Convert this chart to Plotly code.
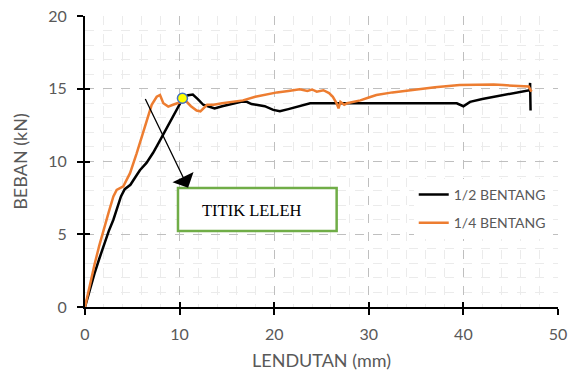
import plotly.graph_objects as go

# Load-deflection data, 1/2 span loading
half_x = [0, 0.5, 1, 1.5, 2, 2.5, 3, 3.4, 3.8, 4.2, 4.8, 5.3, 5.8, 6.5, 7.2, 7.8, 8.3,
          8.8, 9.3, 9.7, 10.0, 10.4, 10.9, 11.4, 11.9, 12.5, 13.0, 13.7, 14.5, 15.5,
          16.5, 17.1, 17.6, 18.1, 19.0, 19.9, 20.6, 21.5, 22.7, 23.8, 26, 30, 35,
          39.3, 40.0, 40.7, 42, 44, 45.5, 47.0, 47.05, 47.1]
half_y = [0, 1.2, 2.3, 3.3, 4.3, 5.2, 6.0, 6.8, 7.6, 8.1, 8.4, 8.9, 9.4, 9.9, 10.6,
          11.3, 11.9, 12.5, 13.1, 13.6, 14.0, 14.4, 14.55, 14.6, 14.3, 13.9, 13.8,
          13.65, 13.8, 13.95, 14.1, 14.1, 13.95, 13.9, 13.8, 13.55, 13.45, 13.6, 13.8,
          14.0, 14.0, 14.0, 14.0, 14.0, 13.8, 14.1, 14.3, 14.55, 14.7, 14.9, 15.4, 13.5]

# Load-deflection data, 1/4 span loading
quarter_x = [0, 0.5, 1, 1.5, 2, 2.5, 3, 3.35, 4.05, 4.76, 5.46, 6.0, 6.52, 7.05, 7.58,
             7.93, 8.28, 8.8, 9.3, 9.7, 10.2, 10.75, 11.2, 11.8, 12.2, 12.9, 13.6, 14.5,
             15.5, 16.7, 18, 19, 20.3, 21.5, 22.7, 23.5, 24.0, 24.5, 25.2, 25.8, 26.2,
             26.6, 26.8, 27.0, 27.4, 27.7, 28.4, 29.1, 30.0, 30.8, 32.5, 34.4, 37,
             39.6, 41.5, 43.2, 44.2, 46.3, 46.9, 47.2]
quarter_y = [0, 1.5, 2.9, 4.2, 5.4, 6.5, 7.6, 8.05, 8.3, 9.2, 10.56, 11.7, 12.85, 13.9,
             14.45, 14.57, 14.0, 13.77, 13.9, 14.0, 14.1, 14.1, 13.8, 13.5, 13.45, 13.9,
             13.9, 14.0, 14.1, 14.2, 14.45, 14.6, 14.75, 14.85, 14.96, 14.85, 14.95,
             14.8, 14.9, 14.7, 14.45, 14.0, 13.65, 14.1, 13.9, 14.0, 14.1, 14.2, 14.4,
             14.57, 14.75, 14.9, 15.1, 15.25, 15.3, 15.3, 15.25, 15.2, 15.15, 14.8]

# Yield point
yield_x = [10.3]
yield_y = [14.35]

x_ticks = [0, 10, 20, 30, 40, 50]
y_ticks = [0, 5, 10, 15, 20]

GREY = "#595959"
FONT = "Lato"

fig = go.Figure()
fig.add_trace(go.Scatter(x=half_x, y=half_y, mode="lines", name="1/2 BENTANG",
                         legendgroup="a",
                         line=dict(color="#000000", width=2.5)))
fig.add_trace(go.Scatter(x=quarter_x, y=quarter_y, mode="lines", name="1/4 BENTANG",
                         legendgroup="b",
                         line=dict(color="#ED7D31", width=2.5)))
fig.add_trace(go.Scatter(x=yield_x, y=yield_y, mode="markers", showlegend=False,
                         marker=dict(color="#FFFF00", size=10,
                                     line=dict(color="#4472C4", width=1.5))))
# Empty trace that brings up the overlay axes used for the inner tick halves
fig.add_trace(go.Scatter(x=[], y=[], xaxis="x2", yaxis="y2", showlegend=False,
                         hoverinfo="skip"))

# Label box for the yield point
fig.add_shape(type="rect", xref="x", yref="y", x0=9.83, x1=26.6, y0=5.22, y1=8.18,
              line=dict(color="#70AD47", width=2.5), fillcolor="white", layer="above")
fig.add_annotation(x=17.7, y=6.65, xref="x", yref="y", text="TITIK LELEH",
                   showarrow=False,
                   font=dict(family="Liberation Serif", size=16.5, color="#000000"))
fig.add_annotation(x=10.9, y=8.2, ax=6.3, ay=14.4, xref="x", yref="y",
                   axref="x", ayref="y", text="", showarrow=True,
                   arrowhead=1, arrowsize=3.0, arrowwidth=1.3, arrowcolor="#000000")

fig.update_xaxes(range=[0, 50], tickvals=x_ticks, ticks="outside", ticklen=6,
                 tickwidth=2, tickcolor="#000000", ticklabelstandoff=6,
                 automargin=False,
                 showline=True, linecolor="#000000", linewidth=2,
                 showgrid=True, gridcolor="#BFBFBF", griddash="dash", gridwidth=1,
                 minor=dict(dtick=2, showgrid=True, gridcolor="#EBEBEB", gridwidth=1),
                 zeroline=False,
                 tickfont=dict(family=FONT, size=16, color=GREY),
                 title=dict(text="LENDUTAN (mm)", standoff=12,
                            font=dict(family=FONT, size=18, color=GREY)))
fig.update_yaxes(range=[0, 20], tickvals=y_ticks, ticks="outside", ticklen=6,
                 tickwidth=2, tickcolor="#000000", ticklabelstandoff=7,
                 automargin=False,
                 showline=True, linecolor="#000000", linewidth=2,
                 showgrid=True, gridcolor="#BFBFBF", griddash="dash", gridwidth=1,
                 minor=dict(dtick=1, showgrid=True, gridcolor="#EBEBEB", gridwidth=1),
                 zeroline=False,
                 tickfont=dict(family=FONT, size=16, color=GREY),
                 title=dict(text="BEBAN (kN)", standoff=16,
                            font=dict(family=FONT, size=18, color=GREY)))

fig.update_layout(
    width=577, height=377,
    margin=dict(l=85, r=19, t=16, b=70),
    paper_bgcolor="white", plot_bgcolor="white",
    showlegend=True,
    xaxis2=dict(overlaying="x", anchor="y", side="bottom", range=[0, 50],
                tickvals=x_ticks, ticks="inside", ticklen=5, tickwidth=2,
                tickcolor="#000000", showticklabels=False, showgrid=False,
                zeroline=False, showline=False, automargin=False),
    yaxis2=dict(overlaying="y", anchor="x", side="left", range=[0, 20],
                tickvals=y_ticks, ticks="inside", ticklen=5, tickwidth=2,
                tickcolor="#000000", showticklabels=False, showgrid=False,
                zeroline=False, showline=False, automargin=False),
    legend=dict(x=0.695, y=0.44, xanchor="left", yanchor="top",
                bgcolor="white", tracegroupgap=7,
                font=dict(family=FONT, size=14, color=GREY)),
)

fig.write_html("out.html")
